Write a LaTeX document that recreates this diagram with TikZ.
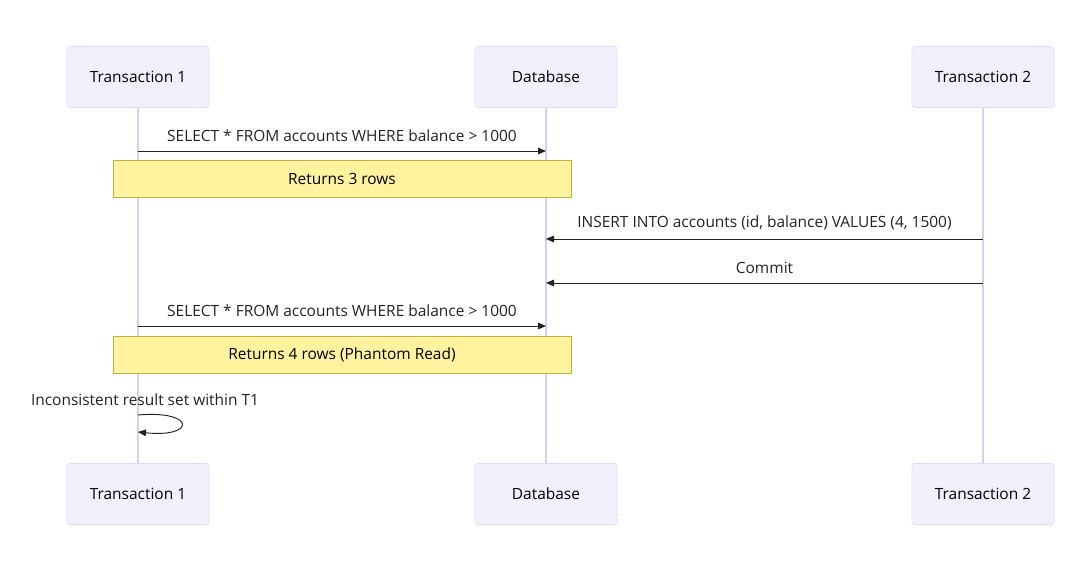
\documentclass[tikz,border=0pt]{standalone}
\usepackage{fontspec}
\setmainfont{Open Sans}
\usetikzlibrary{positioning,patterns,arrows.meta}
\definecolor{actfill}{HTML}{ECECFF}
\definecolor{actline}{HTML}{D8D8F6}
\definecolor{lifecol}{HTML}{D2D2F4}
\definecolor{notefill}{HTML}{FFF3A0}
\definecolor{noteline}{HTML}{BDB445}
\definecolor{inkcol}{HTML}{222222}
\newcommand{\diagfont}{\fontsize{11.6}{14}\selectfont}
\tikzset{
  actor/.style={draw=actline, fill=actfill, rounded corners=2pt, minimum width=106.5pt,
    minimum height=45.75pt, text=black, font=\diagfont,
    postaction={pattern=north east lines, pattern color=white}},
  note/.style={draw=noteline, fill=notefill, minimum width=343.5pt, minimum height=27.75pt,
    font=\diagfont, text=black},
  msg/.style={draw=inkcol, line width=0.7pt, -{Triangle[length=6pt,width=5pt]}},
  msglabel/.style={above=3pt, font=\diagfont, text=inkcol},
  lifeline/.style={draw=lifecol, line width=0.8pt}
}
\begin{document}
\begin{tikzpicture}[x=0.75pt, y=-0.75pt]
	\useasboundingbox (0,0) rectangle (1082,577);
	% participants
	\node[actor] (t1top) at (138,77) {Transaction 1};
	\node[actor] (dbtop) at (546,77) {Database};
	\node[actor] (t2top) at (983,77) {Transaction 2};
	\node[actor] (t1bot) at (138,494) {Transaction 1};
	\node[actor] (dbbot) at (546,494) {Database};
	\node[actor] (t2bot) at (983,494) {Transaction 2};
	\draw[lifeline] (t1top) -- (t1bot);
	\draw[lifeline] (dbtop) -- (dbbot);
	\draw[lifeline] (t2top) -- (t2bot);
	% message ends
	\coordinate (q1a) at (138,151);
	\coordinate (q1b) at (546,151);
	\coordinate (insa) at (983,239);
	\coordinate (insb) at (546,239);
	\coordinate (coma) at (983,283);
	\coordinate (comb) at (546,283);
	\coordinate (q2a) at (138,326);
	\coordinate (q2b) at (546,326);
	\coordinate (loopa) at (138,415);
	\coordinate (loopb) at (138,432);
	% messages
	\draw[msg] (q1a) -- node[msglabel] (q1lbl) {SELECT * FROM accounts WHERE balance > 1000} (q1b);
	\node[note] (note1) at (342,178.5) {Returns 3 rows};
	\draw[msg] (insa) -- node[msglabel] (inslbl) {INSERT INTO accounts (id, balance) VALUES (4, 1500)} (insb);
	\draw[msg] (coma) -- node[msglabel] (comlbl) {Commit} (comb);
	\draw[msg] (q2a) -- node[msglabel] (q2lbl) {SELECT * FROM accounts WHERE balance > 1000} (q2b);
	\node[note] (note2) at (342,354.5) {Returns 4 rows (Phantom Read)};
	\node[font=\diagfont, text=inkcol] (looplbl) at (145,400) {Inconsistent result set within T1};
	\draw[msg] (loopa) .. controls (196,410) and (196,438) .. (loopb);
\end{tikzpicture}
\end{document}
